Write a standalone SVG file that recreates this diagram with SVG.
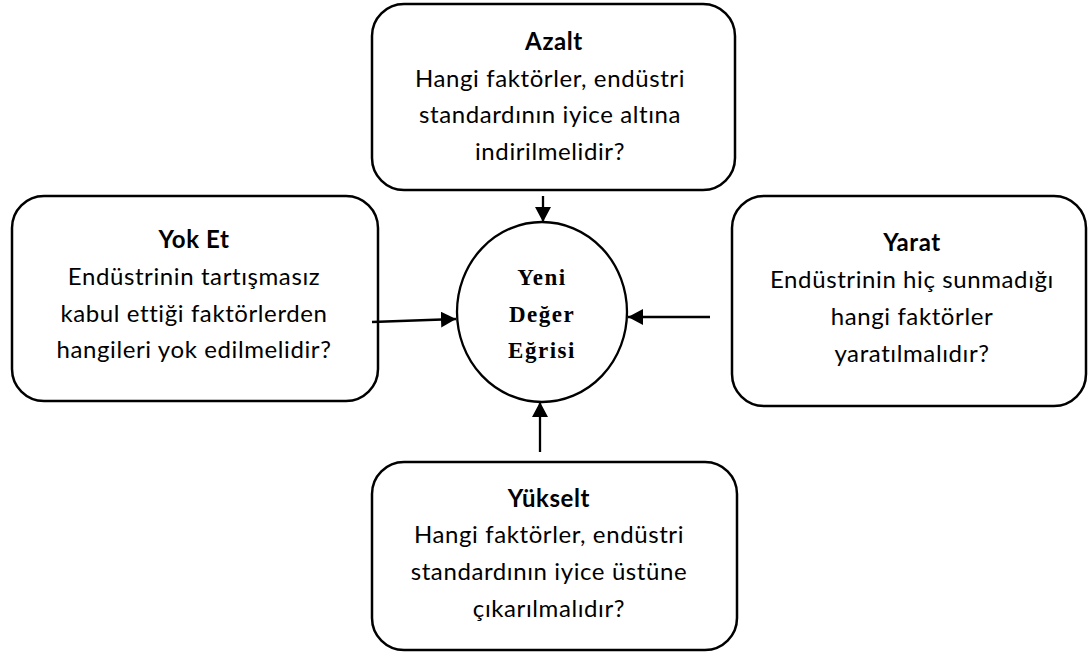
<svg xmlns="http://www.w3.org/2000/svg" width="1088" height="655" viewBox="0 0 1088 655">
<style>
.box{fill:#fff;stroke:#000;stroke-width:2.5}
.t{font-family:Lato,"Noto Sans",sans-serif;font-size:24px;letter-spacing:0.6px;font-variant-ligatures:none;fill:#000;text-anchor:middle}
.b{font-weight:bold}
.c{font-family:"Liberation Serif",serif;font-size:23px;letter-spacing:1.5px;font-weight:bold;fill:#000;text-anchor:middle}
.conn{stroke:#000;stroke-width:2.3;fill:none}
</style>
<defs>
<marker id="ah" markerUnits="userSpaceOnUse" markerWidth="16" markerHeight="16" refX="15" refY="8" orient="auto">
<path d="M0,0 L15,8 L0,16 Z" fill="#000"/>
</marker>
</defs>
<rect width="1088" height="655" fill="#fff"/>
<g id="azalt">
<rect class="box" x="372" y="4" width="363" height="186" rx="32"/>
<text class="t b" x="554" y="50">Azalt</text>
<text class="t" x="550" y="87">Hangi faktörler, endüstri</text>
<text class="t" x="550" y="123">standardının iyice altına</text>
<text class="t" x="550" y="160">indirilmelidir?</text>
</g>
<g id="yoket">
<rect class="box" x="12" y="196" width="366" height="205" rx="32"/>
<text class="t b" x="194" y="248">Yok Et</text>
<text class="t" x="194" y="285">Endüstrinin tartışmasız</text>
<text class="t" x="194" y="322">kabul ettiği faktörlerden</text>
<text class="t" x="194" y="358">hangileri yok edilmelidir?</text>
</g>
<g id="yarat">
<rect class="box" x="732" y="196" width="354" height="210" rx="32"/>
<text class="t b" x="912" y="251">Yarat</text>
<text class="t" x="912" y="288">Endüstrinin hiç sunmadığı</text>
<text class="t" x="912" y="325">hangi faktörler</text>
<text class="t" x="912" y="362">yaratılmalıdır?</text>
</g>
<g id="yukselt">
<rect class="box" x="372" y="462" width="365" height="188" rx="32"/>
<text class="t b" x="549" y="507">Yükselt</text>
<text class="t" x="549" y="543">Hangi faktörler, endüstri</text>
<text class="t" x="549" y="580">standardının iyice üstüne</text>
<text class="t" x="549" y="617">çıkarılmalıdır?</text>
</g>
<g id="yeni">
<ellipse cx="542" cy="312" rx="85" ry="90" fill="#fff" stroke="#000" stroke-width="2.3"/>
<text class="c" x="542" y="285">Yeni</text>
<text class="c" x="542" y="322">Değer</text>
<text class="c" x="542" y="358">Eğrisi</text>
</g>
<g id="connectors">
<line class="conn" x1="543" y1="196" x2="543" y2="222" marker-end="url(#ah)"/>
<line class="conn" x1="372" y1="322" x2="456" y2="319" marker-end="url(#ah)"/>
<line class="conn" x1="710" y1="317" x2="628" y2="317" marker-end="url(#ah)"/>
<line class="conn" x1="540" y1="452" x2="540" y2="402" marker-end="url(#ah)"/>
</g>
</svg>
